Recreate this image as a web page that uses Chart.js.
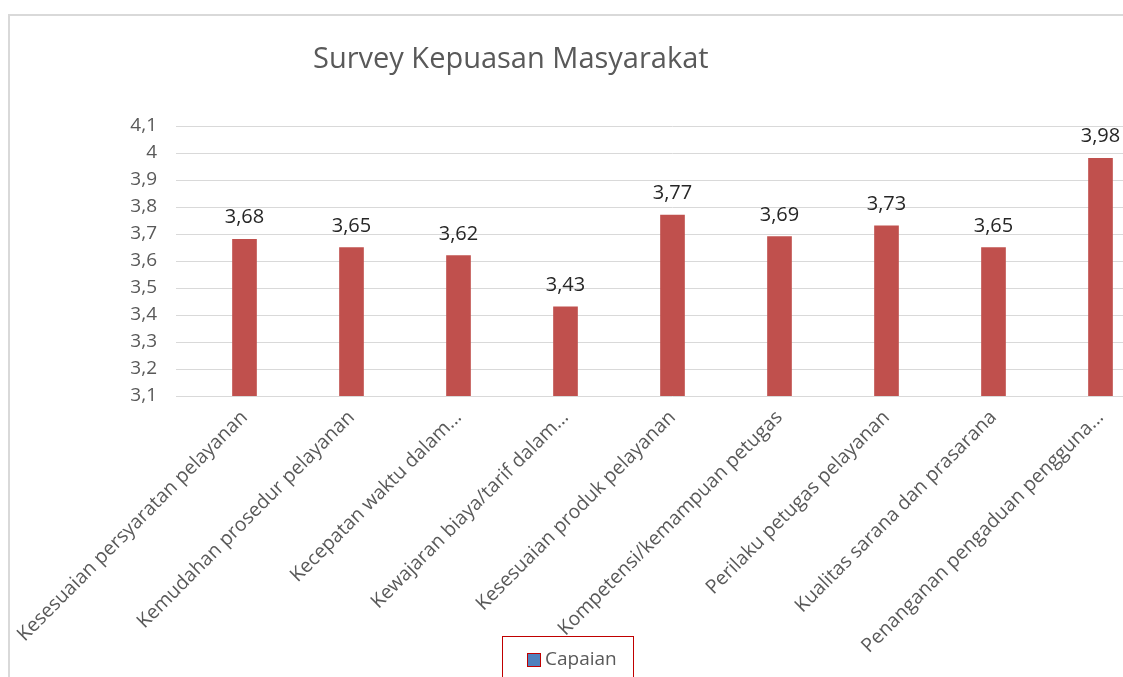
<!DOCTYPE html>
<html>
<head>
<meta charset="utf-8">
<script src="https://cdn.jsdelivr.net/npm/chart.js@4"></script>
<style>
  body { margin: 0; width: 1123px; height: 677px; overflow: hidden; background: #fff; font-family: "Open Sans", sans-serif; }
  #frame { position: absolute; left: 8px; top: 14px; width: 1200px; height: 700px; border-left: 2px solid #d9d9d9; border-top: 2px solid #d9d9d9; }
  #chart { position: absolute; left: 0; top: 0; }
  #title { position: absolute; left: 313px; top: 37px; font-size: 29px; color: #595959; white-space: nowrap; }
  #legend { position: absolute; left: 502px; top: 636px; width: 130px; height: 60px; border: 1px solid #c00000; }
  #legend .sw { position: absolute; left: 24px; top: 16px; width: 12px; height: 12px; background: #4f81bd; border: 1px solid #c00000; }
  #legend .tx { position: absolute; left: 42px; top: 8px; font-size: 19px; color: #595959; }
</style>
</head>
<body>
<div id="frame"></div>
<canvas id="chart" width="1160" height="677"></canvas>
<div id="title">Survey Kepuasan Masyarakat</div>
<div id="legend"><div class="sw"></div><div class="tx">Capaian</div></div>
<script>
document.addEventListener("DOMContentLoaded", () => {
    // --- data ---
    const categories = [
      "Kesesuaian persyaratan pelayanan",
      "Kemudahan prosedur pelayanan",
      "Kecepatan waktu dalam...",
      "Kewajaran biaya/tarif dalam...",
      "Kesesuaian produk pelayanan",
      "Kompetensi/kemampuan petugas",
      "Perilaku petugas pelayanan",
      "Kualitas sarana dan prasarana",
      "Penanganan pengaduan pengguna..."
    ];
    const capaian = [3.68, 3.65, 3.62, 3.43, 3.77, 3.69, 3.73, 3.65, 3.98];
    const yMin = 3.1, yMax = 4.1, yStep = 0.1;

    const comma = v => String(v).replace(".", ",");

    // value labels above each bar
    const valueLabels = {
      id: "valueLabels",
      afterDatasetsDraw(chart) {
        const ctx = chart.ctx;
        const meta = chart.getDatasetMeta(0);
        ctx.save();
        ctx.font = "20px 'Open Sans'";
        ctx.fillStyle = "#262626";
        ctx.textAlign = "center";
        ctx.textBaseline = "alphabetic";
        meta.data.forEach((bar, i) => {
          ctx.fillText(comma(capaian[i].toFixed(2)), bar.x, bar.y - 16);
        });
        ctx.restore();
      }
    };

    new Chart(document.getElementById("chart"), {
      type: "bar",
      data: {
        labels: categories,
        datasets: [{ label: "Capaian", data: capaian, backgroundColor: "#c0504d", barThickness: 24 }]
      },
      options: {
        responsive: false,
        animation: false,
        layout: { padding: { top: 126, right: 6, left: 0, bottom: 0 } },
        plugins: { legend: { display: false }, title: { display: false }, tooltip: { enabled: false } },
        scales: {
          x: {
            grid: { display: false, drawTicks: false },
            border: { display: false },
            ticks: { color: "#595959", font: { family: "Open Sans", size: 19.5 }, minRotation: 45, maxRotation: 45, autoSkip: false, padding: 10 },
            afterFit: s => { s.height = 281; }
          },
          y: {
            min: yMin, max: yMax,
            grid: { color: "#d9d9d9", drawTicks: true, tickLength: 15, tickColor: "#d9d9d9" },
            border: { display: false },
            ticks: {
              stepSize: yStep, padding: 19, color: "#595959", font: { family: "Open Sans", size: 19 },
              callback: v => comma(Math.round(v * 10) / 10)
            },
            afterFit: s => { s.width = 191; }
          }
        }
      },
      plugins: [valueLabels]
    });
});
</script>
</body>
</html>
